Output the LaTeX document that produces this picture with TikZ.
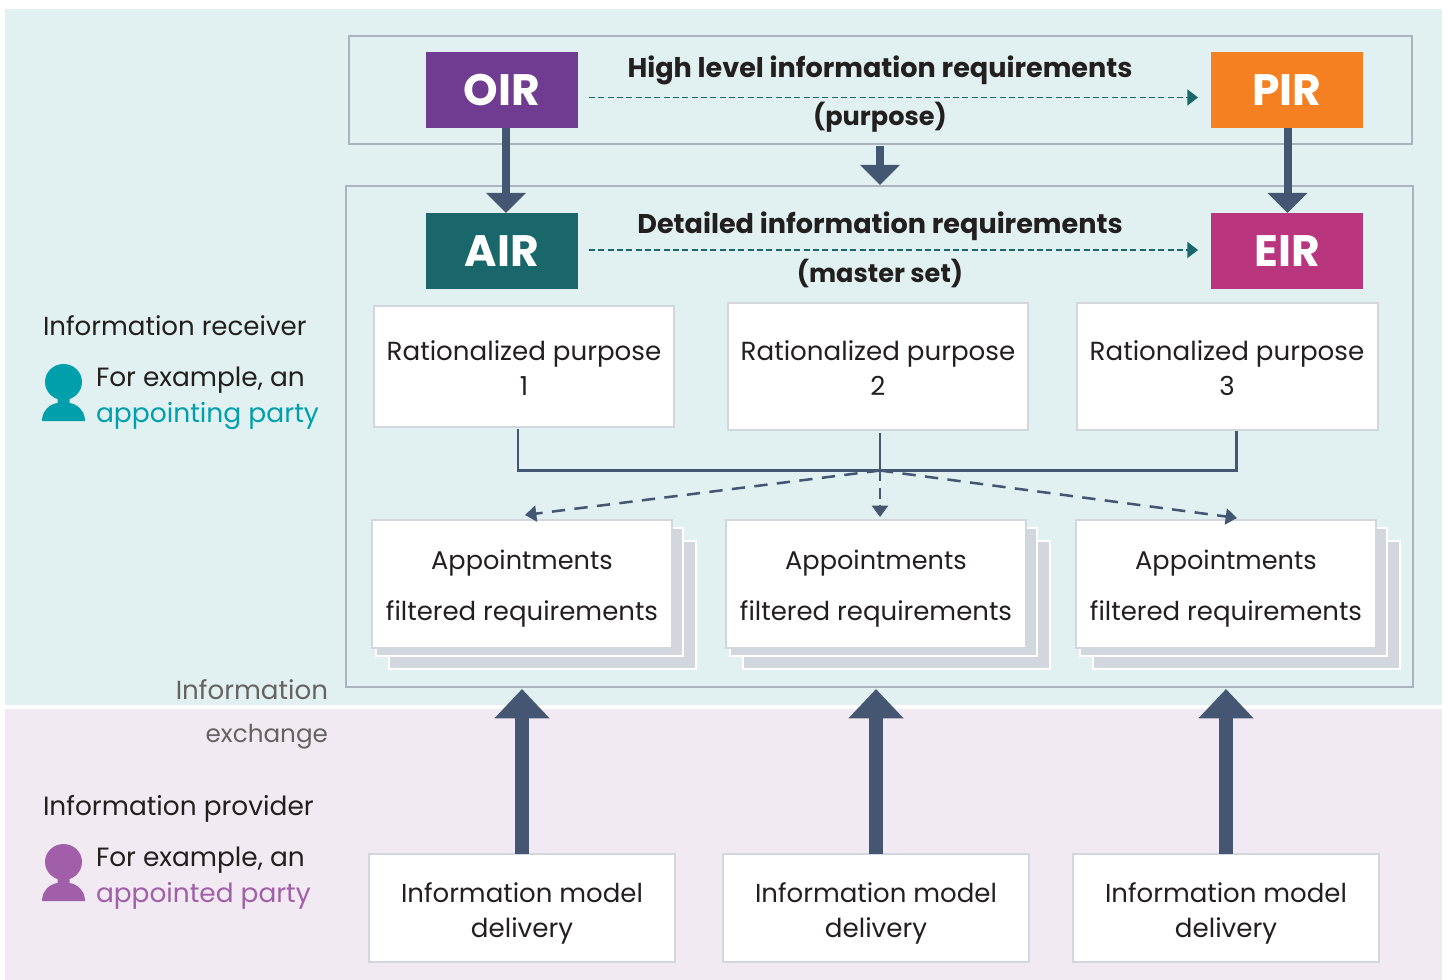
\documentclass[tikz,border=0pt]{standalone}
\usepackage{fontspec}
\setmainfont{Poppins}
\usetikzlibrary{arrows.meta}
\definecolor{tealbg}{HTML}{E1F1F1}
\definecolor{lilacbg}{HTML}{F2EAF3}
\definecolor{frameg}{HTML}{A9B4BC}
\definecolor{boxedge}{HTML}{D2D6DD}
\definecolor{navy}{HTML}{445671}
\definecolor{ink}{HTML}{231F20}
\definecolor{oirc}{HTML}{6F3C91}
\definecolor{pirc}{HTML}{F58021}
\definecolor{airc}{HTML}{19666B}
\definecolor{eirc}{HTML}{B9367F}
\definecolor{recv}{HTML}{009FAC}
\definecolor{prov}{HTML}{A05FA8}
\newcommand{\fsz}[1]{\fontsize{#1}{#1}\selectfont}
\tikzset{
  x=0.75pt,y=-0.75pt,
  every node/.style={inner sep=0pt,outer sep=0pt,text=ink,font=\fsz{19.6}},
  frame/.style={draw=frameg,line width=1.5pt,fill=tealbg},
  reqbox/.style={draw=boxedge,line width=1.5pt,fill=white,align=center,anchor=north west},
  tag/.style={anchor=north west,minimum width=114pt,minimum height=57pt,text=white,font=\fsz{33}\bfseries},
  head/.style={font=\fsz{20.3}\bfseries,align=center},
  side/.style={anchor=base west},
  thick arrow/.style={draw=navy,line width=6pt,-{Triangle[length=15pt,width=29pt,fill=navy]}},
  huge arrow/.style={draw=navy,line width=9.8pt,-{Triangle[length=22pt,width=40pt,fill=navy]}},
  dash arrow/.style={draw=airc,line width=1.3pt,dash pattern=on 4.5pt off 2.5pt,-{Triangle[length=8pt,width=12pt,fill=airc]}},
  nav dash/.style={draw=navy,line width=1.9pt,dash pattern=on 10pt off 7pt,-{Triangle[length=8.5pt,width=12pt,fill=navy]}},
  sheet/.style={fill=boxedge,draw=white,line width=1.4pt},
  pic actor/.style={fill=#1},
  person/.pic={
    \fill[pic actor] (0,-4) circle[x radius=18.5,y radius=18];
    \fill[pic actor] (-21.5,35) .. controls (-21.5,25) and (-14,18) .. (-6,17) -- (-6,10) -- (6,10) -- (6,17) .. controls (14,18) and (21.5,25) .. (21.5,35) -- cycle;
  },
}
\newcommand{\stack}[2]{%
  \draw[sheet] (#1+17,#2+21) rectangle (#1+324,#2+149);
  \draw[sheet] (#1+4,#2+8) rectangle (#1+311,#2+136);
}
\begin{document}
\begin{tikzpicture}
\useasboundingbox (0,0) rectangle (1448,980);
\fill[white] (0,0) rectangle (1448,980);
\fill[tealbg] (5,9) rectangle (1442,705);
\fill[lilacbg] (5,709) rectangle (1442,980);

% frames
\draw[frame] (349,36) rectangle (1412,144);
\draw[frame] (346,186) rectangle (1413,687);

% tags
\node[tag,fill=oirc] (oir) at (426,52) {OIR};
\node[tag,fill=pirc] (pir) at (1211,52) {PIR};
\node[tag,fill=airc] (air) at (426,213) {AIR};
\node[tag,fill=eirc] (eir) at (1211,213) {EIR};

% headings
\node[head] (hl) at (880,70) {High level information requirements};
\node[head,font=\fsz{19.2}\bfseries] (hp) at (880,117) {(purpose)};
\node[head] (dl) at (880,226) {Detailed information requirements};
\node[head,font=\fsz{19.2}\bfseries] (dm) at (880,273) {(master set)};

\coordinate (d1s) at (589,97.5); \coordinate (d1e) at (1198,97.5);
\coordinate (d2s) at (589,250); \coordinate (d2e) at (1198,250);
\draw[dash arrow] (d1s) -- (d1e);
\draw[dash arrow] (d2s) -- (d2e);

% thick down arrows
\coordinate (oirb) at (506,128); \coordinate (airt) at (506,213);
\coordinate (pirb) at (1287.5,128); \coordinate (eirt) at (1287.5,213);
\coordinate (mt) at (880,146); \coordinate (mb) at (880,185);
\draw[thick arrow] (oirb) -- (airt);
\draw[thick arrow] (pirb) -- (eirt);
\draw[thick arrow] (mt) -- (mb);

% purposes
\node[reqbox,minimum width=225pt,minimum height=90.5pt] (p1) at (374,306) {};
\node[reqbox,minimum width=225pt,minimum height=95pt] (p2) at (728,303) {};
\node[reqbox,minimum width=225.7pt,minimum height=95pt] (p3) at (1077,303) {};
\node at (524,354) {Rationalized purpose};
\node at (524,386) {1};
\node at (878,354) {Rationalized purpose};
\node at (878,386) {2};
\node at (1227,354) {Rationalized purpose};
\node at (1227,386) {3};

% connector
\coordinate (j1) at (518,470.5); \coordinate (j3) at (1236.5,470.5);
\coordinate (hub) at (880,470.5);
\coordinate (s1) at (518,429); \coordinate (s2) at (880,433); \coordinate (s3) at (1236.5,431);
\draw[navy,line width=1.8pt] (s1) -- (j1) -- (j3) -- (s3);
\draw[navy,line width=1.8pt] (s2) -- (hub);

% stacks
\stack{372}{520}
\stack{726}{520}
\stack{1076}{520}
\node[reqbox,minimum width=225pt,minimum height=96pt] (a1) at (372,520) {};
\node[reqbox,minimum width=225pt,minimum height=96pt] (a2) at (726,520) {};
\node[reqbox,minimum width=225pt,minimum height=96pt] (a3) at (1076,520) {};
\node[font=\fsz{19.2}] at (522,563) {Appointments};
\node[font=\fsz{19.5}] at (522,614) {filtered requirements};
\node[font=\fsz{19.2}] at (876,563) {Appointments};
\node[font=\fsz{19.5}] at (876,614) {filtered requirements};
\node[font=\fsz{19.2}] at (1226,563) {Appointments};
\node[font=\fsz{19.5}] at (1226,614) {filtered requirements};

\coordinate (t1) at (525,515); \coordinate (t2) at (880,517); \coordinate (t3) at (1237,518);
\draw[nav dash] (hub) -- (t1);
\draw[nav dash] (hub) -- (t3);
\draw[navy,line width=1.9pt,dash pattern=on 8pt off 5pt,-{Triangle[length=8.5pt,width=12pt,fill=navy]}] (hub) -- (t2);

% deliveries
\node[reqbox,minimum width=229.7pt,minimum height=81pt] (m1) at (369,854) {};
\node[reqbox,minimum width=229.7pt,minimum height=81pt] (m2) at (723,854) {};
\node[reqbox,minimum width=229.7pt,minimum height=81pt] (m3) at (1073,854) {};
\node[font=\fsz{19.5}] at (522,893) {Information model};
\node at (522,931) {delivery};
\node[font=\fsz{19.5}] at (876,893) {Information model};
\node at (876,931) {delivery};
\node[font=\fsz{19.5}] at (1226,893) {Information model};
\node at (1226,931) {delivery};
\coordinate (u1) at (522,689); \coordinate (u2) at (876,689); \coordinate (u3) at (1226,689);
\draw[huge arrow] (m1.north -| u1) -- (u1);
\draw[huge arrow] (m2.north -| u2) -- (u2);
\draw[huge arrow] (m3.north -| u3) -- (u3);

% left labels
\node[side,font=\fsz{19.55}] at (43,335) {Information receiver};
\node[side,font=\fsz{19.8}] at (96,386) {For example, an};
\node[side,text=recv,font=\fsz{19.9}] at (96,422) {appointing party};
\pic[pic actor=recv] at (63.5,386) {person};
\node[anchor=base east,text=ink!70] at (328,699) {Information};
\node[anchor=base east,text=ink!70,font=\fsz{18.5}] at (328,742) {exchange};
\node[side,font=\fsz{19.8}] at (43,815) {Information provider};
\node[side,font=\fsz{19.8}] at (96,866) {For example, an};
\node[side,text=prov,font=\fsz{19.8}] at (96,902) {appointed party};
\pic[pic actor=prov] at (63.5,866) {person};
\end{tikzpicture}
\end{document}
